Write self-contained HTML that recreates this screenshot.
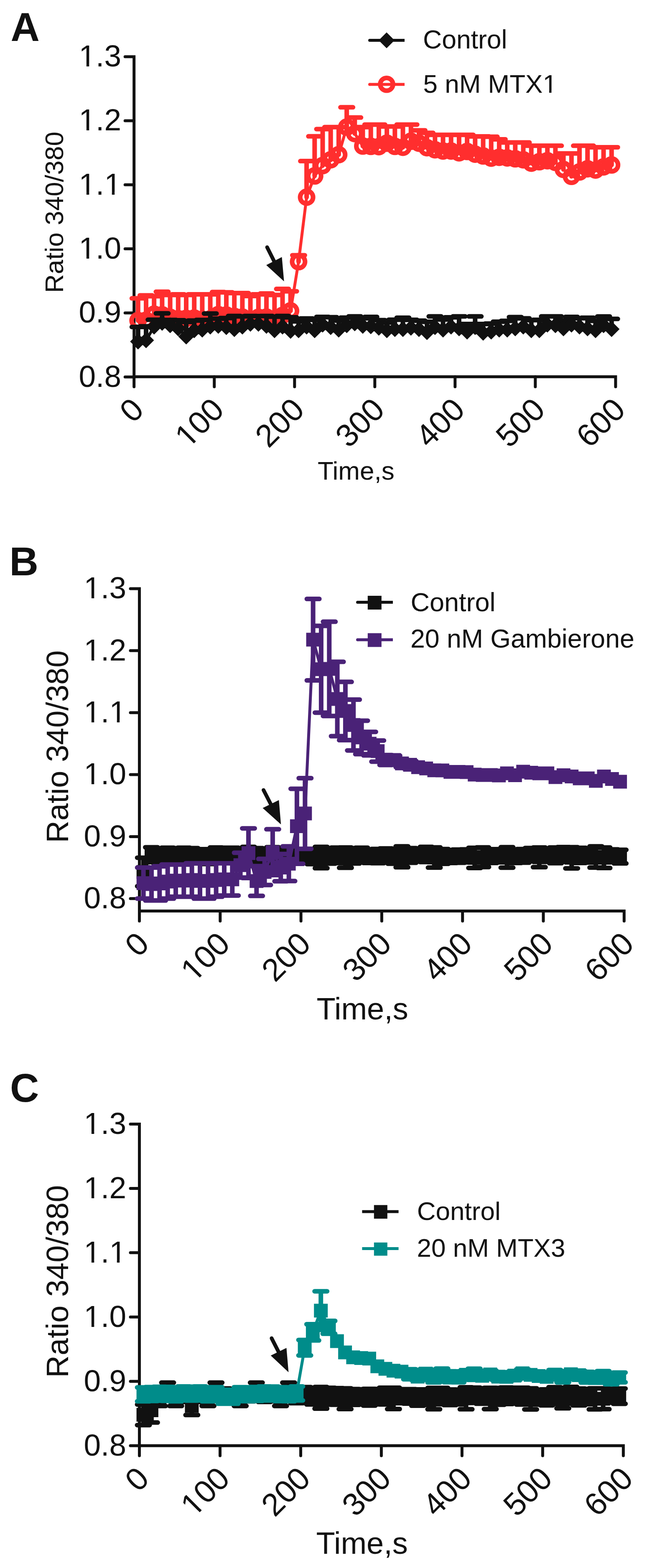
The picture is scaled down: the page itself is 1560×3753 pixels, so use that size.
<!DOCTYPE html>
<html><head><meta charset="utf-8"><title>Figure</title>
<style>html,body{margin:0;padding:0;background:#fff;}svg{display:block;}</style></head>
<body>
<svg width="1560" height="3753" viewBox="0 0 1560 3753" font-family="'Liberation Sans', Arial, sans-serif" fill="#111">
<rect width="1560" height="3753" fill="#fff"/>
<text x="25.5" y="97.5" font-size="96" font-weight="bold">A</text>
<path d="M299.2 135.7H320.7V901.8H1472.9V925.8" stroke="#111" stroke-width="7" fill="none" stroke-linejoin="miter" stroke-linecap="round"/>
<path d="M299.2 289.0H320.7M299.2 442.3H320.7M299.2 595.6H320.7M299.2 748.9H320.7M299.2 902.2H320.7M320.7 901.8V925.8M512.7 901.8V925.8M704.8 901.8V925.8M896.8 901.8V925.8M1088.8 901.8V925.8M1280.8 901.8V925.8" stroke="#111" stroke-width="7" fill="none" stroke-linecap="round"/>
<text x="290.0" y="159.0" text-anchor="end" font-size="73">1.3</text>
<text x="290.0" y="312.3" text-anchor="end" font-size="73">1.2</text>
<text x="290.0" y="465.6" text-anchor="end" font-size="73">1.1</text>
<text x="290.0" y="618.9" text-anchor="end" font-size="73">1.0</text>
<text x="290.0" y="772.2" text-anchor="end" font-size="73">0.9</text>
<text x="290.0" y="925.5" text-anchor="end" font-size="73">0.8</text>
<text x="348.2" y="985.1" text-anchor="end" font-size="76" transform="rotate(-45 348.2 985.1)">0</text>
<text x="540.2" y="985.1" text-anchor="end" font-size="76" transform="rotate(-45 540.2 985.1)">100</text>
<text x="732.3" y="985.1" text-anchor="end" font-size="76" transform="rotate(-45 732.3 985.1)">200</text>
<text x="924.3" y="985.1" text-anchor="end" font-size="76" transform="rotate(-45 924.3 985.1)">300</text>
<text x="1116.3" y="985.1" text-anchor="end" font-size="76" transform="rotate(-45 1116.3 985.1)">400</text>
<text x="1308.3" y="985.1" text-anchor="end" font-size="76" transform="rotate(-45 1308.3 985.1)">500</text>
<text x="1500.4" y="985.1" text-anchor="end" font-size="76" transform="rotate(-45 1500.4 985.1)">600</text>
<text x="150.8" y="508" text-anchor="middle" font-size="62" transform="rotate(-90 150.8 508)">Ratio 340/380</text>
<text x="760" y="1148.3" font-size="62">Time,s</text>
<path d="M330.3 767.3V714.1M315.3 714.1H345.3M349.5 766.5V707.0M334.5 707.0H364.5M368.7 752.0V709.0M353.7 709.0H383.7M387.9 753.5V698.3M372.9 698.3H402.9M407.1 759.6V706.0M392.1 706.0H422.1M426.3 762.7V704.4M411.3 704.4H441.3M445.5 762.1V706.0M430.5 706.0H460.5M464.7 761.2V704.4M449.7 704.4H479.7M483.9 764.2V704.4M468.9 704.4H498.9M503.1 763.2V704.4M488.1 704.4H518.1M522.3 753.0V699.1M507.3 699.1H537.3M541.5 754.1V699.8M526.5 699.8H556.5M560.7 757.2V701.4M545.7 701.4H575.7M579.9 759.0V701.4M564.9 701.4H594.9M599.1 764.8V708.4M584.1 708.4H614.1M618.3 759.6V704.4M603.3 704.4H633.3M637.5 759.0V702.5M622.5 702.5H652.5M656.8 762.4V706.0M641.8 706.0H671.8M676.0 755.0V691.6M661.0 691.6H691.0M695.2 744.0V697.2M680.2 697.2H710.2M714.4 626.3V610.9M699.4 610.9H729.4M733.6 472.0V385.6M718.6 385.6H748.6M752.8 421.1V326.3M737.8 326.3H767.8M772.0 396.3V308.9M757.0 308.9H787.0M791.2 382.5V304.3M776.2 304.3H806.2M810.4 370.2V304.3M795.4 304.3H825.4M829.6 304.3V256.8M814.6 256.8H844.6M848.8 319.7V281.3M833.8 281.3H863.8M868.0 349.6V304.3M853.0 304.3H883.0M887.2 350.3V298.2M872.2 298.2H902.2M906.4 350.9V298.2M891.4 298.2H921.4M925.6 342.7V302.8M910.6 302.8H940.6M944.8 350.3V302.8M929.8 302.8H959.8M964.0 352.5V298.2M949.0 298.2H979.0M983.2 338.1V298.2M968.2 298.2H998.2M1002.4 342.7V312.0M987.4 312.0H1017.4M1021.6 353.4V318.1M1006.6 318.1H1036.6M1040.8 358.4V322.7M1025.8 322.7H1055.8M1060.0 361.5V322.7M1045.0 322.7H1075.0M1079.2 361.5V322.7M1064.2 322.7H1094.2M1098.4 365.7V322.7M1083.4 322.7H1113.4M1117.6 362.6V322.7M1102.6 322.7H1132.6M1136.8 369.0V326.6M1121.8 326.6H1151.8M1156.0 373.3V326.6M1141.0 326.6H1171.0M1175.2 378.5V327.3M1160.2 327.3H1190.2M1194.4 376.4V333.5M1179.4 333.5H1209.4M1213.6 377.9V341.1M1198.6 341.1H1228.6M1232.8 380.1V341.1M1217.8 341.1H1247.8M1252.0 382.5V341.1M1237.0 341.1H1267.0M1271.2 390.5V348.8M1256.2 348.8H1286.2M1290.5 387.1V348.8M1275.5 348.8H1305.5M1309.7 384.7V348.8M1294.7 348.8H1324.7M1328.9 388.6V348.8M1313.9 348.8H1343.9M1348.1 405.5V367.2M1333.1 367.2H1363.1M1367.3 422.1V367.2M1352.3 367.2H1382.3M1386.5 411.6V348.8M1371.5 348.8H1401.5M1405.7 404.0V348.8M1390.7 348.8H1420.7M1424.9 407.0V352.5M1409.9 352.5H1439.9M1444.1 399.4V352.5M1429.1 352.5H1459.1M1463.3 394.8V352.5M1448.3 352.5H1478.3" stroke="#FF2E2E" stroke-width="11" stroke-linecap="round" fill="none"/>
<polyline points="330.3,767.3 349.5,766.5 368.7,752.0 387.9,753.5 407.1,759.6 426.3,762.7 445.5,762.1 464.7,761.2 483.9,764.2 503.1,763.2 522.3,753.0 541.5,754.1 560.7,757.2 579.9,759.0 599.1,764.8 618.3,759.6 637.5,759.0 656.8,762.4 676.0,755.0 695.2,744.0 714.4,626.3 733.6,472.0 752.8,421.1 772.0,396.3 791.2,382.5 810.4,370.2 829.6,304.3 848.8,319.7 868.0,349.6 887.2,350.3 906.4,350.9 925.6,342.7 944.8,350.3 964.0,352.5 983.2,338.1 1002.4,342.7 1021.6,353.4 1040.8,358.4 1060.0,361.5 1079.2,361.5 1098.4,365.7 1117.6,362.6 1136.8,369.0 1156.0,373.3 1175.2,378.5 1194.4,376.4 1213.6,377.9 1232.8,380.1 1252.0,382.5 1271.2,390.5 1290.5,387.1 1309.7,384.7 1328.9,388.6 1348.1,405.5 1367.3,422.1 1386.5,411.6 1405.7,404.0 1424.9,407.0 1444.1,399.4 1463.3,394.8" stroke="#FF2E2E" stroke-width="7" fill="none" stroke-linejoin="round"/>
<g fill="none" stroke="#FF2E2E" stroke-width="11"><circle cx="330.3" cy="767.3" r="15.5"/><circle cx="349.5" cy="766.5" r="15.5"/><circle cx="368.7" cy="752.0" r="15.5"/><circle cx="387.9" cy="753.5" r="15.5"/><circle cx="407.1" cy="759.6" r="15.5"/><circle cx="426.3" cy="762.7" r="15.5"/><circle cx="445.5" cy="762.1" r="15.5"/><circle cx="464.7" cy="761.2" r="15.5"/><circle cx="483.9" cy="764.2" r="15.5"/><circle cx="503.1" cy="763.2" r="15.5"/><circle cx="522.3" cy="753.0" r="15.5"/><circle cx="541.5" cy="754.1" r="15.5"/><circle cx="560.7" cy="757.2" r="15.5"/><circle cx="579.9" cy="759.0" r="15.5"/><circle cx="599.1" cy="764.8" r="15.5"/><circle cx="618.3" cy="759.6" r="15.5"/><circle cx="637.5" cy="759.0" r="15.5"/><circle cx="656.8" cy="762.4" r="15.5"/><circle cx="676.0" cy="755.0" r="15.5"/><circle cx="695.2" cy="744.0" r="15.5"/><circle cx="714.4" cy="626.3" r="15.5"/><circle cx="733.6" cy="472.0" r="15.5"/><circle cx="752.8" cy="421.1" r="15.5"/><circle cx="772.0" cy="396.3" r="15.5"/><circle cx="791.2" cy="382.5" r="15.5"/><circle cx="810.4" cy="370.2" r="15.5"/><circle cx="829.6" cy="304.3" r="15.5"/><circle cx="848.8" cy="319.7" r="15.5"/><circle cx="868.0" cy="349.6" r="15.5"/><circle cx="887.2" cy="350.3" r="15.5"/><circle cx="906.4" cy="350.9" r="15.5"/><circle cx="925.6" cy="342.7" r="15.5"/><circle cx="944.8" cy="350.3" r="15.5"/><circle cx="964.0" cy="352.5" r="15.5"/><circle cx="983.2" cy="338.1" r="15.5"/><circle cx="1002.4" cy="342.7" r="15.5"/><circle cx="1021.6" cy="353.4" r="15.5"/><circle cx="1040.8" cy="358.4" r="15.5"/><circle cx="1060.0" cy="361.5" r="15.5"/><circle cx="1079.2" cy="361.5" r="15.5"/><circle cx="1098.4" cy="365.7" r="15.5"/><circle cx="1117.6" cy="362.6" r="15.5"/><circle cx="1136.8" cy="369.0" r="15.5"/><circle cx="1156.0" cy="373.3" r="15.5"/><circle cx="1175.2" cy="378.5" r="15.5"/><circle cx="1194.4" cy="376.4" r="15.5"/><circle cx="1213.6" cy="377.9" r="15.5"/><circle cx="1232.8" cy="380.1" r="15.5"/><circle cx="1252.0" cy="382.5" r="15.5"/><circle cx="1271.2" cy="390.5" r="15.5"/><circle cx="1290.5" cy="387.1" r="15.5"/><circle cx="1309.7" cy="384.7" r="15.5"/><circle cx="1328.9" cy="388.6" r="15.5"/><circle cx="1348.1" cy="405.5" r="15.5"/><circle cx="1367.3" cy="422.1" r="15.5"/><circle cx="1386.5" cy="411.6" r="15.5"/><circle cx="1405.7" cy="404.0" r="15.5"/><circle cx="1424.9" cy="407.0" r="15.5"/><circle cx="1444.1" cy="399.4" r="15.5"/><circle cx="1463.3" cy="394.8" r="15.5"/></g>
<path d="M330.3 817.4V782.6M315.3 782.6H345.3M349.5 814.5V781.1M334.5 781.1H364.5M368.7 781.7V765.3M353.7 765.3H383.7M387.9 772.7V750.0M372.9 750.0H402.9M407.1 778.6V765.8M392.1 765.8H422.1M426.3 786.0V766.5M411.3 766.5H441.3M445.5 805.6V770.4M430.5 770.4H460.5M464.7 790.6V767.3M449.7 767.3H479.7M483.9 789.1V765.8M468.9 765.8H498.9M503.1 781.7V750.4M488.1 750.4H518.1M522.3 780.0V762.7M507.3 762.7H537.3M541.5 783.1V761.2M526.5 761.2H556.5M560.7 787.7V756.3M545.7 756.3H575.7M579.9 781.7V757.3M564.9 757.3H594.9M599.1 775.0V756.3M584.1 756.3H614.1M618.3 775.0V756.6M603.3 756.6H633.3M637.5 780.0V756.3M622.5 756.3H652.5M656.8 790.6V758.1M641.8 758.1H671.8M676.0 781.7V756.3M661.0 756.3H691.0M695.2 792.0V759.6M680.2 759.6H710.2M714.4 790.6V769.2M699.4 769.2H729.4M733.6 781.7V762.3M718.6 762.3H748.6M752.8 790.6V765.5M737.8 765.5H767.8M772.0 777.0V758.5M757.0 758.5H787.0M791.2 783.1V759.3M776.2 759.3H806.2M810.4 789.1V767.2M795.4 767.2H825.4M829.6 778.6V760.3M814.6 760.3H844.6M848.8 774.0V757.3M833.8 757.3H863.8M868.0 780.0V762.0M853.0 762.0H883.0M887.2 781.1V758.5M872.2 758.5H902.2M906.4 784.6V766.2M891.4 766.2H921.4M925.6 790.6V771.9M910.6 771.9H940.6M944.8 787.7V765.2M929.8 765.2H959.8M964.0 787.7V760.5M949.0 760.5H979.0M983.2 784.6V765.6M968.2 765.6H998.2M1002.4 787.7V767.5M987.4 767.5H1017.4M1021.6 795.0V770.2M1006.6 770.2H1036.6M1040.8 783.1V757.3M1025.8 757.3H1055.8M1060.0 789.1V764.8M1045.0 764.8H1075.0M1079.2 781.7V759.5M1064.2 759.5H1094.2M1098.4 786.0V757.3M1083.4 757.3H1113.4M1117.6 793.7V775.5M1102.6 775.5H1132.6M1136.8 783.1V757.3M1121.8 757.3H1151.8M1156.0 796.6V775.6M1141.0 775.6H1171.0M1175.2 793.7V774.4M1160.2 774.4H1190.2M1194.4 789.1V770.1M1179.4 770.1H1209.4M1213.6 789.1V767.9M1198.6 767.9H1228.6M1232.8 786.0V759.0M1217.8 759.0H1247.8M1252.0 781.7V762.0M1237.0 762.0H1267.0M1271.2 790.6V766.3M1256.2 766.3H1286.2M1290.5 790.6V765.6M1275.5 765.6H1305.5M1309.7 777.0V757.3M1294.7 757.3H1324.7M1328.9 778.6V757.3M1313.9 757.3H1343.9M1348.1 786.0V767.6M1333.1 767.6H1363.1M1367.3 777.0V758.6M1352.3 758.6H1382.3M1386.5 781.7V761.7M1371.5 761.7H1401.5M1405.7 786.0V760.5M1390.7 760.5H1420.7M1424.9 790.6V768.1M1409.9 768.1H1439.9M1444.1 778.6V757.4M1429.1 757.4H1459.1M1463.3 787.7V763.3M1448.3 763.3H1478.3" stroke="#111" stroke-width="11" stroke-linecap="round" fill="none"/>
<polyline points="330.3,817.4 349.5,814.5 368.7,781.7 387.9,772.7 407.1,778.6 426.3,786.0 445.5,805.6 464.7,790.6 483.9,789.1 503.1,781.7 522.3,780.0 541.5,783.1 560.7,787.7 579.9,781.7 599.1,775.0 618.3,775.0 637.5,780.0 656.8,790.6 676.0,781.7 695.2,792.0 714.4,790.6 733.6,781.7 752.8,790.6 772.0,777.0 791.2,783.1 810.4,789.1 829.6,778.6 848.8,774.0 868.0,780.0 887.2,781.1 906.4,784.6 925.6,790.6 944.8,787.7 964.0,787.7 983.2,784.6 1002.4,787.7 1021.6,795.0 1040.8,783.1 1060.0,789.1 1079.2,781.7 1098.4,786.0 1117.6,793.7 1136.8,783.1 1156.0,796.6 1175.2,793.7 1194.4,789.1 1213.6,789.1 1232.8,786.0 1252.0,781.7 1271.2,790.6 1290.5,790.6 1309.7,777.0 1328.9,778.6 1348.1,786.0 1367.3,777.0 1386.5,781.7 1405.7,786.0 1424.9,790.6 1444.1,778.6 1463.3,787.7" stroke="#111" stroke-width="7" fill="none" stroke-linejoin="round"/>
<path d="M330.3 798.4L349.3 817.4L330.3 836.4L311.3 817.4ZM349.5 795.5L368.5 814.5L349.5 833.5L330.5 814.5ZM368.7 762.7L387.7 781.7L368.7 800.7L349.7 781.7ZM387.9 753.7L406.9 772.7L387.9 791.7L368.9 772.7ZM407.1 759.6L426.1 778.6L407.1 797.6L388.1 778.6ZM426.3 767.0L445.3 786.0L426.3 805.0L407.3 786.0ZM445.5 786.6L464.5 805.6L445.5 824.6L426.5 805.6ZM464.7 771.6L483.7 790.6L464.7 809.6L445.7 790.6ZM483.9 770.1L502.9 789.1L483.9 808.1L464.9 789.1ZM503.1 762.7L522.1 781.7L503.1 800.7L484.1 781.7ZM522.3 761.0L541.3 780.0L522.3 799.0L503.3 780.0ZM541.5 764.1L560.5 783.1L541.5 802.1L522.5 783.1ZM560.7 768.7L579.7 787.7L560.7 806.7L541.7 787.7ZM579.9 762.7L598.9 781.7L579.9 800.7L560.9 781.7ZM599.1 756.0L618.1 775.0L599.1 794.0L580.1 775.0ZM618.3 756.0L637.3 775.0L618.3 794.0L599.3 775.0ZM637.5 761.0L656.5 780.0L637.5 799.0L618.5 780.0ZM656.8 771.6L675.8 790.6L656.8 809.6L637.8 790.6ZM676.0 762.7L695.0 781.7L676.0 800.7L657.0 781.7ZM695.2 773.0L714.2 792.0L695.2 811.0L676.2 792.0ZM714.4 771.6L733.4 790.6L714.4 809.6L695.4 790.6ZM733.6 762.7L752.6 781.7L733.6 800.7L714.6 781.7ZM752.8 771.6L771.8 790.6L752.8 809.6L733.8 790.6ZM772.0 758.0L791.0 777.0L772.0 796.0L753.0 777.0ZM791.2 764.1L810.2 783.1L791.2 802.1L772.2 783.1ZM810.4 770.1L829.4 789.1L810.4 808.1L791.4 789.1ZM829.6 759.6L848.6 778.6L829.6 797.6L810.6 778.6ZM848.8 755.0L867.8 774.0L848.8 793.0L829.8 774.0ZM868.0 761.0L887.0 780.0L868.0 799.0L849.0 780.0ZM887.2 762.1L906.2 781.1L887.2 800.1L868.2 781.1ZM906.4 765.6L925.4 784.6L906.4 803.6L887.4 784.6ZM925.6 771.6L944.6 790.6L925.6 809.6L906.6 790.6ZM944.8 768.7L963.8 787.7L944.8 806.7L925.8 787.7ZM964.0 768.7L983.0 787.7L964.0 806.7L945.0 787.7ZM983.2 765.6L1002.2 784.6L983.2 803.6L964.2 784.6ZM1002.4 768.7L1021.4 787.7L1002.4 806.7L983.4 787.7ZM1021.6 776.0L1040.6 795.0L1021.6 814.0L1002.6 795.0ZM1040.8 764.1L1059.8 783.1L1040.8 802.1L1021.8 783.1ZM1060.0 770.1L1079.0 789.1L1060.0 808.1L1041.0 789.1ZM1079.2 762.7L1098.2 781.7L1079.2 800.7L1060.2 781.7ZM1098.4 767.0L1117.4 786.0L1098.4 805.0L1079.4 786.0ZM1117.6 774.7L1136.6 793.7L1117.6 812.7L1098.6 793.7ZM1136.8 764.1L1155.8 783.1L1136.8 802.1L1117.8 783.1ZM1156.0 777.6L1175.0 796.6L1156.0 815.6L1137.0 796.6ZM1175.2 774.7L1194.2 793.7L1175.2 812.7L1156.2 793.7ZM1194.4 770.1L1213.4 789.1L1194.4 808.1L1175.4 789.1ZM1213.6 770.1L1232.6 789.1L1213.6 808.1L1194.6 789.1ZM1232.8 767.0L1251.8 786.0L1232.8 805.0L1213.8 786.0ZM1252.0 762.7L1271.0 781.7L1252.0 800.7L1233.0 781.7ZM1271.2 771.6L1290.2 790.6L1271.2 809.6L1252.2 790.6ZM1290.5 771.6L1309.5 790.6L1290.5 809.6L1271.5 790.6ZM1309.7 758.0L1328.7 777.0L1309.7 796.0L1290.7 777.0ZM1328.9 759.6L1347.9 778.6L1328.9 797.6L1309.9 778.6ZM1348.1 767.0L1367.1 786.0L1348.1 805.0L1329.1 786.0ZM1367.3 758.0L1386.3 777.0L1367.3 796.0L1348.3 777.0ZM1386.5 762.7L1405.5 781.7L1386.5 800.7L1367.5 781.7ZM1405.7 767.0L1424.7 786.0L1405.7 805.0L1386.7 786.0ZM1424.9 771.6L1443.9 790.6L1424.9 809.6L1405.9 790.6ZM1444.1 759.6L1463.1 778.6L1444.1 797.6L1425.1 778.6ZM1463.3 768.7L1482.3 787.7L1463.3 806.7L1444.3 787.7Z" fill="#111"/>
<line x1="639.1" y1="591.8" x2="660.5" y2="634.6" stroke="#111" stroke-width="9" stroke-linecap="round"/><polygon points="637.1,634.4 674.4,615.3 679.6,673.6" fill="#111"/>
<line x1="884.5" y1="96.4" x2="968" y2="96.4" stroke="#111" stroke-width="7"/><circle cx="884.5" cy="96.4" r="3.5" fill="#111"/>
<path d="M925 77.4L944 96.4L925 115.4L906 96.4Z" fill="#111"/>
<text x="1012" y="116" font-size="62.5">Control</text>
<line x1="884.5" y1="202" x2="968" y2="202" stroke="#FF2E2E" stroke-width="7"/><circle cx="884.5" cy="202" r="3.5" fill="#FF2E2E"/>
<circle cx="925" cy="201.7" r="15.3" fill="none" stroke="#FF2E2E" stroke-width="11"/>
<text x="1012.5" y="222.2" font-size="62">5 nM MTX1</text>
<text x="22.5" y="1377" font-size="96" font-weight="bold">B</text>
<path d="M312.0 1408.9H333.5V2180.4H1493.3V2204.4" stroke="#111" stroke-width="7" fill="none" stroke-linejoin="miter" stroke-linecap="round"/>
<path d="M312.0 1557.3H333.5M312.0 1705.7H333.5M312.0 1854.0H333.5M312.0 2002.4H333.5M312.0 2150.8H333.5M333.5 2180.4V2204.4M526.8 2180.4V2204.4M720.1 2180.4V2204.4M913.4 2180.4V2204.4M1106.7 2180.4V2204.4M1300.0 2180.4V2204.4" stroke="#111" stroke-width="7" fill="none" stroke-linecap="round"/>
<text x="302.0" y="1432.2" text-anchor="end" font-size="73">1.3</text>
<text x="302.0" y="1580.6" text-anchor="end" font-size="73">1.2</text>
<text x="302.0" y="1729.0" text-anchor="end" font-size="73">1.1</text>
<text x="302.0" y="1877.3" text-anchor="end" font-size="73">1.0</text>
<text x="302.0" y="2025.7" text-anchor="end" font-size="73">0.9</text>
<text x="302.0" y="2174.1" text-anchor="end" font-size="73">0.8</text>
<text x="361.0" y="2263.7" text-anchor="end" font-size="76" transform="rotate(-45 361.0 2263.7)">0</text>
<text x="554.3" y="2263.7" text-anchor="end" font-size="76" transform="rotate(-45 554.3 2263.7)">100</text>
<text x="747.6" y="2263.7" text-anchor="end" font-size="76" transform="rotate(-45 747.6 2263.7)">200</text>
<text x="940.9" y="2263.7" text-anchor="end" font-size="76" transform="rotate(-45 940.9 2263.7)">300</text>
<text x="1134.2" y="2263.7" text-anchor="end" font-size="76" transform="rotate(-45 1134.2 2263.7)">400</text>
<text x="1327.5" y="2263.7" text-anchor="end" font-size="76" transform="rotate(-45 1327.5 2263.7)">500</text>
<text x="1520.8" y="2263.7" text-anchor="end" font-size="76" transform="rotate(-45 1520.8 2263.7)">600</text>
<text x="162.5" y="1787" text-anchor="middle" font-size="74" transform="rotate(-90 162.5 1787)">Ratio 340/380</text>
<text x="757.5" y="2439.6" font-size="74">Time,s</text>
<path d="M343.2 2087.0V2052.9M328.2 2052.9H358.2M343.2 2087.0V2121.1M328.2 2121.1H358.2M362.5 2045.8V2028.0M347.5 2028.0H377.5M362.5 2045.8V2063.6M347.5 2063.6H377.5M381.8 2049.0V2031.7M366.8 2031.7H396.8M381.8 2049.0V2066.4M366.8 2066.4H396.8M401.2 2047.4V2029.0M386.2 2029.0H416.2M401.2 2047.4V2065.8M386.2 2065.8H416.2M420.5 2046.2V2029.9M405.5 2029.9H435.5M420.5 2046.2V2062.5M405.5 2062.5H435.5M439.8 2044.7V2029.0M424.8 2029.0H454.8M439.8 2044.7V2060.4M424.8 2060.4H454.8M459.1 2048.0V2030.0M444.1 2030.0H474.1M459.1 2048.0V2066.0M444.1 2066.0H474.1M478.5 2049.6V2032.6M463.5 2032.6H493.5M478.5 2049.6V2066.6M463.5 2066.6H493.5M497.8 2050.3V2032.6M482.8 2032.6H512.8M497.8 2050.3V2067.9M482.8 2067.9H512.8M517.1 2046.0V2028.6M502.1 2028.6H532.1M517.1 2046.0V2063.3M502.1 2063.3H532.1M536.5 2045.3V2028.9M521.5 2028.9H551.5M536.5 2045.3V2061.7M521.5 2061.7H551.5M555.8 2046.4V2029.0M540.8 2029.0H570.8M555.8 2046.4V2063.8M540.8 2063.8H570.8M575.1 2047.1V2030.1M560.1 2030.1H590.1M575.1 2047.1V2064.0M560.1 2064.0H590.1M594.5 2045.5V2026.9M579.5 2026.9H609.5M594.5 2045.5V2064.2M579.5 2064.2H609.5M613.8 2047.7V2030.0M598.8 2030.0H628.8M613.8 2047.7V2065.3M598.8 2065.3H628.8M633.1 2050.1V2032.4M618.1 2032.4H648.1M633.1 2050.1V2067.9M618.1 2067.9H648.1M652.4 2046.7V2027.8M637.4 2027.8H667.4M652.4 2046.7V2065.5M637.4 2065.5H667.4M671.8 2045.6V2029.3M656.8 2029.3H686.8M671.8 2045.6V2061.9M656.8 2061.9H686.8M691.1 2048.2V2030.5M676.1 2030.5H706.1M691.1 2048.2V2065.9M676.1 2065.9H706.1M710.4 2050.4V2033.4M695.4 2033.4H725.4M710.4 2050.4V2067.3M695.4 2067.3H725.4M729.8 2049.5V2033.8M714.8 2033.8H744.8M729.8 2049.5V2065.2M714.8 2065.2H744.8M749.1 2050.1V2032.1M734.1 2032.1H764.1M749.1 2050.1V2068.2M734.1 2068.2H764.1M768.4 2052.5V2026.9M753.4 2026.9H783.4M768.4 2052.5V2078.0M753.4 2078.0H783.4M787.8 2050.0V2033.1M772.8 2033.1H802.8M787.8 2050.0V2066.9M772.8 2066.9H802.8M807.1 2047.2V2028.8M792.1 2028.8H822.1M807.1 2047.2V2065.7M792.1 2065.7H822.1M826.4 2052.8V2028.6M811.4 2028.6H841.4M826.4 2052.8V2077.0M811.4 2077.0H841.4M845.7 2048.4V2029.9M830.7 2029.9H860.7M845.7 2048.4V2066.8M830.7 2066.8H860.7M865.1 2044.8V2029.0M850.1 2029.0H880.1M865.1 2044.8V2060.6M850.1 2060.6H880.1M884.4 2049.4V2033.3M869.4 2033.3H899.4M884.4 2049.4V2065.6M869.4 2065.6H899.4M903.7 2049.1V2032.1M888.7 2032.1H918.7M903.7 2049.1V2066.1M888.7 2066.1H918.7M923.1 2047.0V2030.8M908.1 2030.8H938.1M923.1 2047.0V2063.2M908.1 2063.2H938.1M942.4 2050.5V2033.7M927.4 2033.7H957.4M942.4 2050.5V2067.2M927.4 2067.2H957.4M961.7 2050.8V2025.7M946.7 2025.7H976.7M961.7 2050.8V2075.8M946.7 2075.8H976.7M981.1 2047.4V2030.0M966.1 2030.0H996.1M981.1 2047.4V2064.9M966.1 2064.9H996.1M1000.4 2046.5V2031.0M985.4 2031.0H1015.4M1000.4 2046.5V2062.0M985.4 2062.0H1015.4M1019.7 2045.2V2027.1M1004.7 2027.1H1034.7M1019.7 2045.2V2063.2M1004.7 2063.2H1034.7M1039.0 2052.4V2028.3M1024.0 2028.3H1054.0M1039.0 2052.4V2076.6M1024.0 2076.6H1054.0M1058.4 2049.9V2032.3M1043.4 2032.3H1073.4M1058.4 2049.9V2067.4M1043.4 2067.4H1073.4M1077.7 2050.1V2034.6M1062.7 2034.6H1092.7M1077.7 2050.1V2065.6M1062.7 2065.6H1092.7M1097.0 2049.3V2033.4M1082.0 2033.4H1112.0M1097.0 2049.3V2065.1M1082.0 2065.1H1112.0M1116.4 2048.5V2033.0M1101.4 2033.0H1131.4M1116.4 2048.5V2063.9M1101.4 2063.9H1131.4M1135.7 2053.3V2029.2M1120.7 2029.2H1150.7M1135.7 2053.3V2077.4M1120.7 2077.4H1150.7M1155.0 2051.8V2028.3M1140.0 2028.3H1170.0M1155.0 2051.8V2075.2M1140.0 2075.2H1170.0M1174.4 2049.0V2032.5M1159.4 2032.5H1189.4M1174.4 2049.0V2065.5M1159.4 2065.5H1189.4M1193.7 2048.3V2032.6M1178.7 2032.6H1208.7M1193.7 2048.3V2064.1M1178.7 2064.1H1208.7M1213.0 2052.2V2027.8M1198.0 2027.8H1228.0M1213.0 2052.2V2076.7M1198.0 2076.7H1228.0M1232.3 2050.0V2034.3M1217.3 2034.3H1247.3M1232.3 2050.0V2065.6M1217.3 2065.6H1247.3M1251.7 2048.5V2032.2M1236.7 2032.2H1266.7M1251.7 2048.5V2064.7M1236.7 2064.7H1266.7M1271.0 2045.6V2029.7M1256.0 2029.7H1286.0M1271.0 2045.6V2061.4M1256.0 2061.4H1286.0M1290.3 2052.0V2028.6M1275.3 2028.6H1305.3M1290.3 2052.0V2075.5M1275.3 2075.5H1305.3M1309.7 2047.3V2031.9M1294.7 2031.9H1324.7M1309.7 2047.3V2062.7M1294.7 2062.7H1324.7M1329.0 2047.4V2028.6M1314.0 2028.6H1344.0M1329.0 2047.4V2066.1M1314.0 2066.1H1344.0M1348.3 2045.4V2027.6M1333.3 2027.6H1363.3M1348.3 2045.4V2063.1M1333.3 2063.1H1363.3M1367.7 2053.1V2027.8M1352.7 2027.8H1382.7M1367.7 2053.1V2078.4M1352.7 2078.4H1382.7M1387.0 2047.3V2029.3M1372.0 2029.3H1402.0M1387.0 2047.3V2065.4M1372.0 2065.4H1402.0M1406.3 2048.5V2032.5M1391.3 2032.5H1421.3M1406.3 2048.5V2064.6M1391.3 2064.6H1421.3M1425.6 2051.1V2025.7M1410.6 2025.7H1440.6M1425.6 2051.1V2076.5M1410.6 2076.5H1440.6M1445.0 2052.9V2028.4M1430.0 2028.4H1460.0M1445.0 2052.9V2077.5M1430.0 2077.5H1460.0M1464.3 2048.4V2033.0M1449.3 2033.0H1479.3M1464.3 2048.4V2063.8M1449.3 2063.8H1479.3M1483.6 2050.3V2034.1M1468.6 2034.1H1498.6M1483.6 2050.3V2066.6M1468.6 2066.6H1498.6" stroke="#111" stroke-width="11" stroke-linecap="round" fill="none"/>
<polyline points="343.2,2087.0 362.5,2045.8 381.8,2049.0 401.2,2047.4 420.5,2046.2 439.8,2044.7 459.1,2048.0 478.5,2049.6 497.8,2050.3 517.1,2046.0 536.5,2045.3 555.8,2046.4 575.1,2047.1 594.5,2045.5 613.8,2047.7 633.1,2050.1 652.4,2046.7 671.8,2045.6 691.1,2048.2 710.4,2050.4 729.8,2049.5 749.1,2050.1 768.4,2052.5 787.8,2050.0 807.1,2047.2 826.4,2052.8 845.7,2048.4 865.1,2044.8 884.4,2049.4 903.7,2049.1 923.1,2047.0 942.4,2050.5 961.7,2050.8 981.1,2047.4 1000.4,2046.5 1019.7,2045.2 1039.0,2052.4 1058.4,2049.9 1077.7,2050.1 1097.0,2049.3 1116.4,2048.5 1135.7,2053.3 1155.0,2051.8 1174.4,2049.0 1193.7,2048.3 1213.0,2052.2 1232.3,2050.0 1251.7,2048.5 1271.0,2045.6 1290.3,2052.0 1309.7,2047.3 1329.0,2047.4 1348.3,2045.4 1367.7,2053.1 1387.0,2047.3 1406.3,2048.5 1425.6,2051.1 1445.0,2052.9 1464.3,2048.4 1483.6,2050.3" stroke="#111" stroke-width="7" fill="none" stroke-linejoin="round"/>
<path d="M326.7 2070.5h33v33h-33ZM346.0 2029.3h33v33h-33ZM365.3 2032.5h33v33h-33ZM384.7 2030.9h33v33h-33ZM404.0 2029.7h33v33h-33ZM423.3 2028.2h33v33h-33ZM442.6 2031.5h33v33h-33ZM462.0 2033.1h33v33h-33ZM481.3 2033.8h33v33h-33ZM500.6 2029.5h33v33h-33ZM520.0 2028.8h33v33h-33ZM539.3 2029.9h33v33h-33ZM558.6 2030.6h33v33h-33ZM578.0 2029.0h33v33h-33ZM597.3 2031.2h33v33h-33ZM616.6 2033.6h33v33h-33ZM635.9 2030.2h33v33h-33ZM655.3 2029.1h33v33h-33ZM674.6 2031.7h33v33h-33ZM693.9 2033.9h33v33h-33ZM713.3 2033.0h33v33h-33ZM732.6 2033.6h33v33h-33ZM751.9 2036.0h33v33h-33ZM771.3 2033.5h33v33h-33ZM790.6 2030.7h33v33h-33ZM809.9 2036.3h33v33h-33ZM829.2 2031.9h33v33h-33ZM848.6 2028.3h33v33h-33ZM867.9 2032.9h33v33h-33ZM887.2 2032.6h33v33h-33ZM906.6 2030.5h33v33h-33ZM925.9 2034.0h33v33h-33ZM945.2 2034.3h33v33h-33ZM964.6 2030.9h33v33h-33ZM983.9 2030.0h33v33h-33ZM1003.2 2028.7h33v33h-33ZM1022.5 2035.9h33v33h-33ZM1041.9 2033.4h33v33h-33ZM1061.2 2033.6h33v33h-33ZM1080.5 2032.8h33v33h-33ZM1099.9 2032.0h33v33h-33ZM1119.2 2036.8h33v33h-33ZM1138.5 2035.3h33v33h-33ZM1157.9 2032.5h33v33h-33ZM1177.2 2031.8h33v33h-33ZM1196.5 2035.7h33v33h-33ZM1215.8 2033.5h33v33h-33ZM1235.2 2032.0h33v33h-33ZM1254.5 2029.1h33v33h-33ZM1273.8 2035.5h33v33h-33ZM1293.2 2030.8h33v33h-33ZM1312.5 2030.9h33v33h-33ZM1331.8 2028.9h33v33h-33ZM1351.2 2036.6h33v33h-33ZM1370.5 2030.8h33v33h-33ZM1389.8 2032.0h33v33h-33ZM1409.1 2034.6h33v33h-33ZM1428.5 2036.4h33v33h-33ZM1447.8 2031.9h33v33h-33ZM1467.1 2033.8h33v33h-33Z" fill="#111"/>
<path d="M343.2 2113.7V2076.6M328.2 2076.6H358.2M343.2 2113.7V2150.8M328.2 2150.8H358.2M362.5 2115.9V2076.6M347.5 2076.6H377.5M362.5 2115.9V2155.3M347.5 2155.3H377.5M381.8 2114.4V2073.6M366.8 2073.6H396.8M381.8 2114.4V2155.3M366.8 2155.3H396.8M401.2 2110.0V2069.2M386.2 2069.2H416.2M401.2 2110.0V2150.8M386.2 2150.8H416.2M420.5 2107.8V2069.2M405.5 2069.2H435.5M420.5 2107.8V2146.3M405.5 2146.3H435.5M439.8 2107.8V2069.2M424.8 2069.2H454.8M439.8 2107.8V2146.3M424.8 2146.3H454.8M459.1 2106.3V2066.2M444.1 2066.2H474.1M459.1 2106.3V2146.3M444.1 2146.3H474.1M478.5 2108.5V2066.2M463.5 2066.2H493.5M478.5 2108.5V2150.8M463.5 2150.8H493.5M497.8 2108.5V2066.2M482.8 2066.2H512.8M497.8 2108.5V2150.8M482.8 2150.8H512.8M517.1 2106.3V2066.2M502.1 2066.2H532.1M517.1 2106.3V2146.3M502.1 2146.3H532.1M536.5 2104.8V2066.2M521.5 2066.2H551.5M536.5 2104.8V2143.4M521.5 2143.4H551.5M555.8 2104.8V2066.2M540.8 2066.2H570.8M555.8 2104.8V2143.4M540.8 2143.4H570.8M575.1 2070.7V2041.0M560.1 2041.0H590.1M575.1 2070.7V2100.4M560.1 2100.4H590.1M594.5 2042.0V1982.7M579.5 1982.7H609.5M594.5 2042.0V2101.4M579.5 2101.4H609.5M613.8 2108.7V2073.0M598.8 2073.0H628.8M613.8 2108.7V2144.3M598.8 2144.3H628.8M633.1 2087.0V2055.8M618.1 2055.8H648.1M633.1 2087.0V2118.2M618.1 2118.2H648.1M652.4 2039.7V1984.8M637.4 1984.8H667.4M652.4 2039.7V2094.6M637.4 2094.6H667.4M671.8 2076.6V2044.0M656.8 2044.0H686.8M671.8 2076.6V2109.3M656.8 2109.3H686.8M691.1 2067.3V2025.7M676.1 2025.7H706.1M691.1 2067.3V2108.8M676.1 2108.8H706.1M710.4 1977.6V1887.9M695.4 1887.9H725.4M710.4 1977.6V2067.4M695.4 2067.4H725.4M729.8 1947.1V1862.5M714.8 1862.5H744.8M729.8 1947.1V2031.7M714.8 2031.7H744.8M749.1 1531.0V1433.5M734.1 1433.5H764.1M749.1 1531.0V1628.5M734.1 1628.5H764.1M768.4 1601.8V1497.9M753.4 1497.9H783.4M768.4 1601.8V1705.7M753.4 1705.7H783.4M787.8 1600.9V1488.1M772.8 1488.1H802.8M787.8 1600.9V1713.7M772.8 1713.7H802.8M807.1 1673.0V1584.0M792.1 1584.0H822.1M807.1 1673.0V1762.0M792.1 1762.0H822.1M826.4 1701.8V1632.1M811.4 1632.1H841.4M826.4 1701.8V1771.5M811.4 1771.5H841.4M845.7 1735.3V1674.5M830.7 1674.5H860.7M845.7 1735.3V1796.2M830.7 1796.2H860.7M865.1 1765.0V1724.9M850.1 1724.9H880.1M865.1 1765.0V1805.1M850.1 1805.1H880.1M884.4 1779.9V1751.7M869.4 1751.7H899.4M884.4 1779.9V1808.0M869.4 1808.0H899.4M903.7 1797.7V1772.4M888.7 1772.4H918.7M903.7 1797.7V1822.9M888.7 1822.9H918.7M923.1 1819.0V1807.2M908.1 1807.2H938.1M923.1 1819.0V1830.9M908.1 1830.9H938.1M942.4 1819.0V1808.6M927.4 1808.6H957.4M942.4 1819.0V1829.4M927.4 1829.4H957.4M961.7 1827.3V1818.4M946.7 1818.4H976.7M961.7 1827.3V1836.2M946.7 1836.2H976.7M981.1 1830.4V1821.5M966.1 1821.5H996.1M981.1 1830.4V1839.4M966.1 1839.4H996.1" stroke="#4A2277" stroke-width="11" stroke-linecap="round" fill="none"/>
<polyline points="343.2,2113.7 362.5,2115.9 381.8,2114.4 401.2,2110.0 420.5,2107.8 439.8,2107.8 459.1,2106.3 478.5,2108.5 497.8,2108.5 517.1,2106.3 536.5,2104.8 555.8,2104.8 575.1,2070.7 594.5,2042.0 613.8,2108.7 633.1,2087.0 652.4,2039.7 671.8,2076.6 691.1,2067.3 710.4,1977.6 729.8,1947.1 749.1,1531.0 768.4,1601.8 787.8,1600.9 807.1,1673.0 826.4,1701.8 845.7,1735.3 865.1,1765.0 884.4,1779.9 903.7,1797.7 923.1,1819.0 942.4,1819.0 961.7,1827.3 981.1,1830.4 1000.4,1836.2 1019.7,1839.2 1039.0,1843.7 1058.4,1844.1 1077.7,1847.5 1097.0,1847.5 1116.4,1848.1 1135.7,1854.0 1155.0,1854.9 1174.4,1854.9 1193.7,1856.0 1213.0,1851.1 1232.3,1855.5 1251.7,1846.9 1271.0,1849.6 1290.3,1851.1 1309.7,1851.1 1329.0,1860.0 1348.3,1855.5 1367.7,1858.5 1387.0,1862.9 1406.3,1862.9 1425.6,1868.9 1445.0,1858.5 1464.3,1864.4 1483.6,1871.0" stroke="#4A2277" stroke-width="7" fill="none" stroke-linejoin="round"/>
<path d="M326.7 2097.2h33v33h-33ZM346.0 2099.4h33v33h-33ZM365.3 2097.9h33v33h-33ZM384.7 2093.5h33v33h-33ZM404.0 2091.3h33v33h-33ZM423.3 2091.3h33v33h-33ZM442.6 2089.8h33v33h-33ZM462.0 2092.0h33v33h-33ZM481.3 2092.0h33v33h-33ZM500.6 2089.8h33v33h-33ZM520.0 2088.3h33v33h-33ZM539.3 2088.3h33v33h-33ZM558.6 2054.2h33v33h-33ZM578.0 2025.5h33v33h-33ZM597.3 2092.2h33v33h-33ZM616.6 2070.5h33v33h-33ZM635.9 2023.2h33v33h-33ZM655.3 2060.1h33v33h-33ZM674.6 2050.8h33v33h-33ZM693.9 1961.1h33v33h-33ZM713.3 1930.6h33v33h-33ZM732.6 1514.5h33v33h-33ZM751.9 1585.3h33v33h-33ZM771.3 1584.4h33v33h-33ZM790.6 1656.5h33v33h-33ZM809.9 1685.3h33v33h-33ZM829.2 1718.8h33v33h-33ZM848.6 1748.5h33v33h-33ZM867.9 1763.4h33v33h-33ZM887.2 1781.2h33v33h-33ZM906.6 1802.5h33v33h-33ZM925.9 1802.5h33v33h-33ZM945.2 1810.8h33v33h-33ZM964.6 1813.9h33v33h-33ZM983.9 1819.7h33v33h-33ZM1003.2 1822.7h33v33h-33ZM1022.5 1827.2h33v33h-33ZM1041.9 1827.6h33v33h-33ZM1061.2 1831.0h33v33h-33ZM1080.5 1831.0h33v33h-33ZM1099.9 1831.6h33v33h-33ZM1119.2 1837.5h33v33h-33ZM1138.5 1838.4h33v33h-33ZM1157.9 1838.4h33v33h-33ZM1177.2 1839.5h33v33h-33ZM1196.5 1834.6h33v33h-33ZM1215.8 1839.0h33v33h-33ZM1235.2 1830.4h33v33h-33ZM1254.5 1833.1h33v33h-33ZM1273.8 1834.6h33v33h-33ZM1293.2 1834.6h33v33h-33ZM1312.5 1843.5h33v33h-33ZM1331.8 1839.0h33v33h-33ZM1351.2 1842.0h33v33h-33ZM1370.5 1846.4h33v33h-33ZM1389.8 1846.4h33v33h-33ZM1409.1 1852.4h33v33h-33ZM1428.5 1842.0h33v33h-33ZM1447.8 1847.9h33v33h-33ZM1467.1 1854.5h33v33h-33Z" fill="#4A2277"/>
<line x1="630.5" y1="1891.0" x2="652.8" y2="1934.2" stroke="#111" stroke-width="9" stroke-linecap="round"/><polygon points="628.5,1934.0 667.3,1914.9 672.2,1973.2" fill="#111"/>
<line x1="855.5" y1="1441.5" x2="940" y2="1441.5" stroke="#111" stroke-width="7"/><circle cx="855.5" cy="1441.5" r="3.5" fill="#111"/>
<rect x="879.8" y="1426" width="33" height="33" fill="#111"/>
<text x="982.5" y="1462.7" font-size="63">Control</text>
<line x1="855.5" y1="1531.3" x2="940" y2="1531.3" stroke="#4A2277" stroke-width="7"/><circle cx="855.5" cy="1531.3" r="3.5" fill="#4A2277"/>
<rect x="879.8" y="1515.5" width="33" height="33" fill="#4A2277"/>
<text x="982" y="1550" font-size="62.6">20 nM Gambierone</text>
<text x="24" y="2636.5" font-size="96" font-weight="bold">C</text>
<path d="M312.0 2690.4H333.5V3460.2H1491.4V3484.2" stroke="#111" stroke-width="7" fill="none" stroke-linejoin="miter" stroke-linecap="round"/>
<path d="M312.0 2844.4H333.5M312.0 2998.3H333.5M312.0 3152.3H333.5M312.0 3306.2H333.5M312.0 3460.2H333.5M333.5 3460.2V3484.2M526.5 3460.2V3484.2M719.5 3460.2V3484.2M912.4 3460.2V3484.2M1105.4 3460.2V3484.2M1298.4 3460.2V3484.2" stroke="#111" stroke-width="7" fill="none" stroke-linecap="round"/>
<text x="302.0" y="2713.7" text-anchor="end" font-size="73">1.3</text>
<text x="302.0" y="2867.7" text-anchor="end" font-size="73">1.2</text>
<text x="302.0" y="3021.6" text-anchor="end" font-size="73">1.1</text>
<text x="302.0" y="3175.6" text-anchor="end" font-size="73">1.0</text>
<text x="302.0" y="3329.5" text-anchor="end" font-size="73">0.9</text>
<text x="302.0" y="3483.5" text-anchor="end" font-size="73">0.8</text>
<text x="361.0" y="3543.5" text-anchor="end" font-size="76" transform="rotate(-45 361.0 3543.5)">0</text>
<text x="554.0" y="3543.5" text-anchor="end" font-size="76" transform="rotate(-45 554.0 3543.5)">100</text>
<text x="747.0" y="3543.5" text-anchor="end" font-size="76" transform="rotate(-45 747.0 3543.5)">200</text>
<text x="939.9" y="3543.5" text-anchor="end" font-size="76" transform="rotate(-45 939.9 3543.5)">300</text>
<text x="1132.9" y="3543.5" text-anchor="end" font-size="76" transform="rotate(-45 1132.9 3543.5)">400</text>
<text x="1325.9" y="3543.5" text-anchor="end" font-size="76" transform="rotate(-45 1325.9 3543.5)">500</text>
<text x="1518.9" y="3543.5" text-anchor="end" font-size="76" transform="rotate(-45 1518.9 3543.5)">600</text>
<text x="162.5" y="3067" text-anchor="middle" font-size="74" transform="rotate(-90 162.5 3067)">Ratio 340/380</text>
<text x="756.5" y="3719" font-size="74">Time,s</text>
<path d="M343.1 3386.3V3361.7M328.1 3361.7H358.1M343.1 3386.3V3410.9M328.1 3410.9H358.1M362.4 3375.5V3346.3M347.4 3346.3H377.4M362.4 3375.5V3404.8M347.4 3404.8H377.4M381.7 3349.3V3333.5M366.7 3333.5H396.7M381.7 3349.3V3365.2M366.7 3365.2H396.7M401.0 3329.3V3309.3M386.0 3309.3H416.0M401.0 3329.3V3349.3M386.0 3349.3H416.0M420.3 3349.3V3333.5M405.3 3333.5H435.3M420.3 3349.3V3365.2M405.3 3365.2H435.3M439.6 3340.1V3324.7M424.6 3324.7H454.6M439.6 3340.1V3355.5M424.6 3355.5H454.6M458.9 3364.7V3342.7M443.9 3342.7H473.9M458.9 3364.7V3386.8M443.9 3386.8H473.9M478.2 3340.1V3324.7M463.2 3324.7H493.2M478.2 3340.1V3355.5M463.2 3355.5H493.2M497.5 3349.3V3333.5M482.5 3333.5H512.5M497.5 3349.3V3365.2M482.5 3365.2H512.5M516.8 3329.3V3309.3M501.8 3309.3H531.8M516.8 3329.3V3349.3M501.8 3349.3H531.8M536.1 3338.6V3323.2M521.1 3323.2H551.1M536.1 3338.6V3354.0M521.1 3354.0H551.1M555.4 3340.1V3324.7M540.4 3324.7H570.4M555.4 3340.1V3355.5M540.4 3355.5H570.4M574.7 3349.3V3333.5M559.7 3333.5H589.7M574.7 3349.3V3365.2M559.7 3365.2H589.7M594.0 3338.6V3323.2M579.0 3323.2H609.0M594.0 3338.6V3354.0M579.0 3354.0H609.0M613.3 3329.3V3309.3M598.3 3309.3H628.3M613.3 3329.3V3349.3M598.3 3349.3H628.3M632.6 3340.1V3324.7M617.6 3324.7H647.6M632.6 3340.1V3355.5M617.6 3355.5H647.6M651.9 3338.6V3323.2M636.9 3323.2H666.9M651.9 3338.6V3354.0M636.9 3354.0H666.9M671.2 3349.3V3333.5M656.2 3333.5H686.2M671.2 3349.3V3365.2M656.2 3365.2H686.2M690.5 3329.3V3309.3M675.5 3309.3H705.5M690.5 3329.3V3349.3M675.5 3349.3H705.5M709.8 3340.1V3321.6M694.8 3321.6H724.8M709.8 3340.1V3358.6M694.8 3358.6H724.8M729.1 3339.0V3319.9M714.1 3319.9H744.1M729.1 3339.0V3358.1M714.1 3358.1H744.1M748.4 3342.9V3324.2M733.4 3324.2H763.4M748.4 3342.9V3361.5M733.4 3361.5H763.4M767.7 3345.6V3319.7M752.7 3319.7H782.7M767.7 3345.6V3371.5M752.7 3371.5H782.7M787.0 3341.8V3321.7M772.0 3321.7H802.0M787.0 3341.8V3361.9M772.0 3361.9H802.0M806.3 3342.4V3322.5M791.3 3322.5H821.3M806.3 3342.4V3362.2M791.3 3362.2H821.3M825.6 3347.8V3323.0M810.6 3323.0H840.6M825.6 3347.8V3372.6M810.6 3372.6H840.6M844.9 3343.6V3324.8M829.9 3324.8H859.9M844.9 3343.6V3362.4M829.9 3362.4H859.9M864.2 3343.4V3325.3M849.2 3325.3H879.2M864.2 3343.4V3361.6M849.2 3361.6H879.2M883.5 3344.2V3324.2M868.5 3324.2H898.5M883.5 3344.2V3364.2M868.5 3364.2H898.5M902.8 3342.9V3324.5M887.8 3324.5H917.8M902.8 3342.9V3361.2M887.8 3361.2H917.8M922.1 3341.4V3321.5M907.1 3321.5H937.1M922.1 3341.4V3361.4M907.1 3361.4H937.1M941.4 3347.0V3321.5M926.4 3321.5H956.4M941.4 3347.0V3372.5M926.4 3372.5H956.4M960.7 3341.8V3325.1M945.7 3325.1H975.7M960.7 3341.8V3358.5M945.7 3358.5H975.7M980.0 3342.3V3325.0M965.0 3325.0H995.0M980.0 3342.3V3359.6M965.0 3359.6H995.0M999.3 3345.0V3325.4M984.3 3325.4H1014.3M999.3 3345.0V3364.6M984.3 3364.6H1014.3M1018.6 3344.0V3325.6M1003.6 3325.6H1033.6M1018.6 3344.0V3362.4M1003.6 3362.4H1033.6M1037.9 3347.6V3322.1M1022.9 3322.1H1052.9M1037.9 3347.6V3373.0M1022.9 3373.0H1052.9M1057.2 3341.6V3322.1M1042.2 3322.1H1072.2M1057.2 3341.6V3361.1M1042.2 3361.1H1072.2M1076.5 3344.4V3325.7M1061.5 3325.7H1091.5M1076.5 3344.4V3363.1M1061.5 3363.1H1091.5M1095.8 3343.5V3325.9M1080.8 3325.9H1110.8M1095.8 3343.5V3361.2M1080.8 3361.2H1110.8M1115.1 3346.8V3320.6M1100.1 3320.6H1130.1M1115.1 3346.8V3373.1M1100.1 3373.1H1130.1M1134.4 3339.4V3321.2M1119.4 3321.2H1149.4M1134.4 3339.4V3357.7M1119.4 3357.7H1149.4M1153.7 3341.3V3322.8M1138.7 3322.8H1168.7M1153.7 3341.3V3359.8M1138.7 3359.8H1168.7M1173.0 3347.2V3321.7M1158.0 3321.7H1188.0M1173.0 3347.2V3372.7M1158.0 3372.7H1188.0M1192.3 3342.1V3322.0M1177.3 3322.0H1207.3M1192.3 3342.1V3362.2M1177.3 3362.2H1207.3M1211.6 3340.7V3320.9M1196.6 3320.9H1226.6M1211.6 3340.7V3360.6M1196.6 3360.6H1226.6M1230.9 3339.2V3321.6M1215.9 3321.6H1245.9M1230.9 3339.2V3356.8M1215.9 3356.8H1245.9M1250.2 3341.6V3321.5M1235.2 3321.5H1265.2M1250.2 3341.6V3361.7M1235.2 3361.7H1265.2M1269.5 3348.2V3323.0M1254.5 3323.0H1284.5M1269.5 3348.2V3373.4M1254.5 3373.4H1284.5M1288.8 3344.6V3327.1M1273.8 3327.1H1303.8M1288.8 3344.6V3362.1M1273.8 3362.1H1303.8M1308.0 3344.6V3325.5M1293.0 3325.5H1323.0M1308.0 3344.6V3363.7M1293.0 3363.7H1323.0M1327.3 3340.2V3320.3M1312.3 3320.3H1342.3M1327.3 3340.2V3360.2M1312.3 3360.2H1342.3M1346.6 3346.5V3322.2M1331.6 3322.2H1361.6M1346.6 3346.5V3370.8M1331.6 3370.8H1361.6M1365.9 3339.6V3319.4M1350.9 3319.4H1380.9M1365.9 3339.6V3359.8M1350.9 3359.8H1380.9M1385.2 3343.7V3323.5M1370.2 3323.5H1400.2M1385.2 3343.7V3363.8M1370.2 3363.8H1400.2M1404.5 3342.6V3324.2M1389.5 3324.2H1419.5M1404.5 3342.6V3361.0M1389.5 3361.0H1419.5M1423.8 3348.1V3322.9M1408.8 3322.9H1438.8M1423.8 3348.1V3373.3M1408.8 3373.3H1438.8M1443.1 3348.0V3323.1M1428.1 3323.1H1458.1M1443.1 3348.0V3372.8M1428.1 3372.8H1458.1M1462.4 3340.6V3323.9M1447.4 3323.9H1477.4M1462.4 3340.6V3357.3M1447.4 3357.3H1477.4M1481.7 3341.6V3323.4M1466.7 3323.4H1496.7M1481.7 3341.6V3359.9M1466.7 3359.9H1496.7" stroke="#111" stroke-width="11" stroke-linecap="round" fill="none"/>
<polyline points="343.1,3386.3 362.4,3375.5 381.7,3349.3 401.0,3329.3 420.3,3349.3 439.6,3340.1 458.9,3364.7 478.2,3340.1 497.5,3349.3 516.8,3329.3 536.1,3338.6 555.4,3340.1 574.7,3349.3 594.0,3338.6 613.3,3329.3 632.6,3340.1 651.9,3338.6 671.2,3349.3 690.5,3329.3 709.8,3340.1 729.1,3339.0 748.4,3342.9 767.7,3345.6 787.0,3341.8 806.3,3342.4 825.6,3347.8 844.9,3343.6 864.2,3343.4 883.5,3344.2 902.8,3342.9 922.1,3341.4 941.4,3347.0 960.7,3341.8 980.0,3342.3 999.3,3345.0 1018.6,3344.0 1037.9,3347.6 1057.2,3341.6 1076.5,3344.4 1095.8,3343.5 1115.1,3346.8 1134.4,3339.4 1153.7,3341.3 1173.0,3347.2 1192.3,3342.1 1211.6,3340.7 1230.9,3339.2 1250.2,3341.6 1269.5,3348.2 1288.8,3344.6 1308.0,3344.6 1327.3,3340.2 1346.6,3346.5 1365.9,3339.6 1385.2,3343.7 1404.5,3342.6 1423.8,3348.1 1443.1,3348.0 1462.4,3340.6 1481.7,3341.6" stroke="#111" stroke-width="7" fill="none" stroke-linejoin="round"/>
<path d="M326.6 3369.8h33v33h-33ZM345.9 3359.0h33v33h-33ZM365.2 3332.8h33v33h-33ZM384.5 3312.8h33v33h-33ZM403.8 3332.8h33v33h-33ZM423.1 3323.6h33v33h-33ZM442.4 3348.2h33v33h-33ZM461.7 3323.6h33v33h-33ZM481.0 3332.8h33v33h-33ZM500.3 3312.8h33v33h-33ZM519.6 3322.1h33v33h-33ZM538.9 3323.6h33v33h-33ZM558.2 3332.8h33v33h-33ZM577.5 3322.1h33v33h-33ZM596.8 3312.8h33v33h-33ZM616.1 3323.6h33v33h-33ZM635.4 3322.1h33v33h-33ZM654.7 3332.8h33v33h-33ZM674.0 3312.8h33v33h-33ZM693.3 3323.6h33v33h-33ZM712.6 3322.5h33v33h-33ZM731.9 3326.4h33v33h-33ZM751.2 3329.1h33v33h-33ZM770.5 3325.3h33v33h-33ZM789.8 3325.9h33v33h-33ZM809.1 3331.3h33v33h-33ZM828.4 3327.1h33v33h-33ZM847.7 3326.9h33v33h-33ZM867.0 3327.7h33v33h-33ZM886.3 3326.4h33v33h-33ZM905.6 3324.9h33v33h-33ZM924.9 3330.5h33v33h-33ZM944.2 3325.3h33v33h-33ZM963.5 3325.8h33v33h-33ZM982.8 3328.5h33v33h-33ZM1002.1 3327.5h33v33h-33ZM1021.4 3331.1h33v33h-33ZM1040.7 3325.1h33v33h-33ZM1060.0 3327.9h33v33h-33ZM1079.3 3327.0h33v33h-33ZM1098.6 3330.3h33v33h-33ZM1117.9 3322.9h33v33h-33ZM1137.2 3324.8h33v33h-33ZM1156.5 3330.7h33v33h-33ZM1175.8 3325.6h33v33h-33ZM1195.1 3324.2h33v33h-33ZM1214.4 3322.7h33v33h-33ZM1233.7 3325.1h33v33h-33ZM1253.0 3331.7h33v33h-33ZM1272.3 3328.1h33v33h-33ZM1291.5 3328.1h33v33h-33ZM1310.8 3323.7h33v33h-33ZM1330.1 3330.0h33v33h-33ZM1349.4 3323.1h33v33h-33ZM1368.7 3327.2h33v33h-33ZM1388.0 3326.1h33v33h-33ZM1407.3 3331.6h33v33h-33ZM1426.6 3331.5h33v33h-33ZM1445.9 3324.1h33v33h-33ZM1465.2 3325.1h33v33h-33Z" fill="#111"/>
<path d="M343.1 3337.4V3320.8M328.1 3320.8H358.1M343.1 3337.4V3354.1M328.1 3354.1H358.1M362.4 3336.7V3320.0M347.4 3320.0H377.4M362.4 3336.7V3353.3M347.4 3353.3H377.4M381.7 3336.0V3319.3M366.7 3319.3H396.7M381.7 3336.0V3352.6M366.7 3352.6H396.7M401.0 3336.2V3319.6M386.0 3319.6H416.0M401.0 3336.2V3352.9M386.0 3352.9H416.0M420.3 3337.3V3320.7M405.3 3320.7H435.3M420.3 3337.3V3354.0M405.3 3354.0H435.3M439.6 3335.1V3318.4M424.6 3318.4H454.6M439.6 3335.1V3351.7M424.6 3351.7H454.6M458.9 3335.6V3318.9M443.9 3318.9H473.9M458.9 3335.6V3352.2M443.9 3352.2H473.9M478.2 3335.1V3318.5M463.2 3318.5H493.2M478.2 3335.1V3351.7M463.2 3351.7H493.2M497.5 3337.2V3320.6M482.5 3320.6H512.5M497.5 3337.2V3353.9M482.5 3353.9H512.5M516.8 3336.8V3320.2M501.8 3320.2H531.8M516.8 3336.8V3353.5M501.8 3353.5H531.8M536.1 3343.2V3326.6M521.1 3326.6H551.1M536.1 3343.2V3359.8M521.1 3359.8H551.1M555.4 3343.2V3326.6M540.4 3326.6H570.4M555.4 3343.2V3359.8M540.4 3359.8H570.4M574.7 3336.8V3320.2M559.7 3320.2H589.7M574.7 3336.8V3353.5M559.7 3353.5H589.7M594.0 3337.2V3320.5M579.0 3320.5H609.0M594.0 3337.2V3353.8M579.0 3353.8H609.0M613.3 3336.5V3319.8M598.3 3319.8H628.3M613.3 3336.5V3353.1M598.3 3353.1H628.3M632.6 3335.2V3318.6M617.6 3318.6H647.6M632.6 3335.2V3351.9M617.6 3351.9H647.6M651.9 3335.5V3318.8M636.9 3318.8H666.9M651.9 3335.5V3352.1M636.9 3352.1H666.9M671.2 3336.9V3320.2M656.2 3320.2H686.2M671.2 3336.9V3353.5M656.2 3353.5H686.2M690.5 3337.1V3320.5M675.5 3320.5H705.5M690.5 3337.1V3353.8M675.5 3353.8H705.5M709.8 3335.2V3318.6M694.8 3318.6H724.8M709.8 3335.2V3351.9M694.8 3351.9H724.8M729.1 3225.7V3207.2M714.1 3207.2H744.1M729.1 3225.7V3244.2M714.1 3244.2H744.1M748.4 3188.9V3169.5M733.4 3169.5H763.4M748.4 3188.9V3208.3M733.4 3208.3H763.4M767.7 3136.9V3090.7M752.7 3090.7H782.7M767.7 3136.9V3183.1M752.7 3183.1H782.7M787.0 3176.9V3161.5M772.0 3161.5H802.0M787.0 3176.9V3192.3M772.0 3192.3H802.0M980.0 3289.2V3277.2M965.0 3277.2H995.0M980.0 3289.2V3301.2M965.0 3301.2H995.0M999.3 3295.1V3287.1M984.3 3287.1H1014.3M999.3 3295.1V3303.2M984.3 3303.2H1014.3M1018.6 3287.8V3277.4M1003.6 3277.4H1033.6M1018.6 3287.8V3298.1M1003.6 3298.1H1033.6M1037.9 3295.3V3281.9M1022.9 3281.9H1052.9M1037.9 3295.3V3308.8M1022.9 3308.8H1052.9M1057.2 3288.4V3275.8M1042.2 3275.8H1072.2M1057.2 3288.4V3301.1M1042.2 3301.1H1072.2M1076.5 3295.2V3282.2M1061.5 3282.2H1091.5M1076.5 3295.2V3308.2M1061.5 3308.2H1091.5M1095.8 3295.4V3282.4M1080.8 3282.4H1110.8M1095.8 3295.4V3308.4M1080.8 3308.4H1110.8M1115.1 3290.6V3280.9M1100.1 3280.9H1130.1M1115.1 3290.6V3300.4M1100.1 3300.4H1130.1M1134.4 3289.4V3276.0M1119.4 3276.0H1149.4M1134.4 3289.4V3302.8M1119.4 3302.8H1149.4M1153.7 3292.9V3284.4M1138.7 3284.4H1168.7M1153.7 3292.9V3301.4M1138.7 3301.4H1168.7M1173.0 3289.7V3280.6M1158.0 3280.6H1188.0M1173.0 3289.7V3298.9M1158.0 3298.9H1188.0M1192.3 3294.9V3286.2M1177.3 3286.2H1207.3M1192.3 3294.9V3303.6M1177.3 3303.6H1207.3M1211.6 3295.6V3286.7M1196.6 3286.7H1226.6M1211.6 3295.6V3304.6M1196.6 3304.6H1226.6M1230.9 3292.4V3282.8M1215.9 3282.8H1245.9M1230.9 3292.4V3302.0M1215.9 3302.0H1245.9M1250.2 3286.9V3277.4M1235.2 3277.4H1265.2M1250.2 3286.9V3296.4M1235.2 3296.4H1265.2M1269.5 3290.8V3282.0M1254.5 3282.0H1284.5M1269.5 3290.8V3299.6M1254.5 3299.6H1284.5M1327.3 3290.3V3279.2M1312.3 3279.2H1342.3M1327.3 3290.3V3301.4M1312.3 3301.4H1342.3M1346.6 3297.7V3287.1M1331.6 3287.1H1361.6M1346.6 3297.7V3308.4M1331.6 3308.4H1361.6M1365.9 3289.3V3281.0M1350.9 3281.0H1380.9M1365.9 3289.3V3297.7M1350.9 3297.7H1380.9M1385.2 3291.5V3281.2M1370.2 3281.2H1400.2M1385.2 3291.5V3301.9M1370.2 3301.9H1400.2M1404.5 3296.3V3283.5M1389.5 3283.5H1419.5M1404.5 3296.3V3309.1M1389.5 3309.1H1419.5M1423.8 3298.3V3287.5M1408.8 3287.5H1438.8M1423.8 3298.3V3309.1M1408.8 3309.1H1438.8M1443.1 3295.5V3281.7M1428.1 3281.7H1458.1M1443.1 3295.5V3309.2M1428.1 3309.2H1458.1M1462.4 3300.5V3287.7M1447.4 3287.7H1477.4M1462.4 3300.5V3313.3M1447.4 3313.3H1477.4M1481.7 3296.8V3285.2M1466.7 3285.2H1496.7M1481.7 3296.8V3308.4M1466.7 3308.4H1496.7" stroke="#008C8A" stroke-width="11" stroke-linecap="round" fill="none"/>
<polyline points="343.1,3337.4 362.4,3336.7 381.7,3336.0 401.0,3336.2 420.3,3337.3 439.6,3335.1 458.9,3335.6 478.2,3335.1 497.5,3337.2 516.8,3336.8 536.1,3343.2 555.4,3343.2 574.7,3336.8 594.0,3337.2 613.3,3336.5 632.6,3335.2 651.9,3335.5 671.2,3336.9 690.5,3337.1 709.8,3335.2 729.1,3225.7 748.4,3188.9 767.7,3136.9 787.0,3176.9 806.3,3210.0 825.6,3237.0 844.9,3248.8 864.2,3250.4 883.5,3251.7 902.8,3270.2 922.1,3276.2 941.4,3280.8 960.7,3283.1 980.0,3289.2 999.3,3295.1 1018.6,3287.8 1037.9,3295.3 1057.2,3288.4 1076.5,3295.2 1095.8,3295.4 1115.1,3290.6 1134.4,3289.4 1153.7,3292.9 1173.0,3289.7 1192.3,3294.9 1211.6,3295.6 1230.9,3292.4 1250.2,3286.9 1269.5,3290.8 1288.8,3293.5 1308.0,3295.5 1327.3,3290.3 1346.6,3297.7 1365.9,3289.3 1385.2,3291.5 1404.5,3296.3 1423.8,3298.3 1443.1,3295.5 1462.4,3300.5 1481.7,3296.8" stroke="#008C8A" stroke-width="7" fill="none" stroke-linejoin="round"/>
<path d="M326.6 3320.9h33v33h-33ZM345.9 3320.2h33v33h-33ZM365.2 3319.5h33v33h-33ZM384.5 3319.7h33v33h-33ZM403.8 3320.8h33v33h-33ZM423.1 3318.6h33v33h-33ZM442.4 3319.1h33v33h-33ZM461.7 3318.6h33v33h-33ZM481.0 3320.7h33v33h-33ZM500.3 3320.3h33v33h-33ZM519.6 3326.7h33v33h-33ZM538.9 3326.7h33v33h-33ZM558.2 3320.3h33v33h-33ZM577.5 3320.7h33v33h-33ZM596.8 3320.0h33v33h-33ZM616.1 3318.7h33v33h-33ZM635.4 3319.0h33v33h-33ZM654.7 3320.4h33v33h-33ZM674.0 3320.6h33v33h-33ZM693.3 3318.7h33v33h-33ZM712.6 3209.2h33v33h-33ZM731.9 3172.4h33v33h-33ZM751.2 3120.4h33v33h-33ZM770.5 3160.4h33v33h-33ZM789.8 3193.5h33v33h-33ZM809.1 3220.5h33v33h-33ZM828.4 3232.3h33v33h-33ZM847.7 3233.9h33v33h-33ZM867.0 3235.2h33v33h-33ZM886.3 3253.7h33v33h-33ZM905.6 3259.7h33v33h-33ZM924.9 3264.3h33v33h-33ZM944.2 3266.6h33v33h-33ZM963.5 3272.7h33v33h-33ZM982.8 3278.6h33v33h-33ZM1002.1 3271.3h33v33h-33ZM1021.4 3278.8h33v33h-33ZM1040.7 3271.9h33v33h-33ZM1060.0 3278.7h33v33h-33ZM1079.3 3278.9h33v33h-33ZM1098.6 3274.1h33v33h-33ZM1117.9 3272.9h33v33h-33ZM1137.2 3276.4h33v33h-33ZM1156.5 3273.2h33v33h-33ZM1175.8 3278.4h33v33h-33ZM1195.1 3279.1h33v33h-33ZM1214.4 3275.9h33v33h-33ZM1233.7 3270.4h33v33h-33ZM1253.0 3274.3h33v33h-33ZM1272.3 3277.0h33v33h-33ZM1291.5 3279.0h33v33h-33ZM1310.8 3273.8h33v33h-33ZM1330.1 3281.2h33v33h-33ZM1349.4 3272.8h33v33h-33ZM1368.7 3275.0h33v33h-33ZM1388.0 3279.8h33v33h-33ZM1407.3 3281.8h33v33h-33ZM1426.6 3279.0h33v33h-33ZM1445.9 3284.0h33v33h-33ZM1465.2 3280.3h33v33h-33Z" fill="#008C8A"/>
<line x1="649.9" y1="3203.1" x2="671.4" y2="3245.3" stroke="#111" stroke-width="9" stroke-linecap="round"/><polygon points="647.8,3244.6 685.4,3226.3 690.4,3284.6" fill="#111"/>
<line x1="866.4" y1="2900" x2="953.6" y2="2900" stroke="#111" stroke-width="7"/>
<rect x="894.8" y="2884.3" width="32" height="32.6" fill="#111"/>
<text x="997.8" y="2920" font-size="62">Control</text>
<line x1="866.4" y1="2988.5" x2="953.6" y2="2988.5" stroke="#008C8A" stroke-width="7"/>
<rect x="894.8" y="2973.9" width="32" height="31.6" fill="#008C8A"/>
<text x="997.5" y="3008" font-size="62">20 nM MTX3</text>
<g><path d="M192.88 152.75H206.87V160.00H192.88ZM213.32 152.75H226.75V160.00H213.32Z" fill="#fff"/><path d="M192.88 306.05H206.87V313.30H192.88ZM213.32 306.05H226.75V313.30H213.32Z" fill="#fff"/><path d="M192.88 459.35H206.87V466.60H192.88ZM213.32 459.35H226.75V466.60H213.32Z" fill="#fff"/><path d="M253.75 459.35H267.75V466.60H253.75ZM274.20 459.35H287.63V466.60H274.20Z" fill="#fff"/><path d="M192.88 612.65H206.87V619.90H192.88ZM213.32 612.65H226.75V619.90H213.32Z" fill="#fff"/><path d="M417.98 978.62H432.50V986.10H417.98ZM439.22 978.62H453.14V986.10H439.22Z" fill="#fff" transform="rotate(-45 540.2 985.1)"/><path d="M1301.94 216.77H1314.01V223.20H1301.94ZM1319.49 216.77H1331.08V223.20H1319.49Z" fill="#fff"/><path d="M204.88 1425.95H218.87V1433.20H204.88ZM225.32 1425.95H238.75V1433.20H225.32Z" fill="#fff"/><path d="M204.88 1574.35H218.87V1581.60H204.88ZM225.32 1574.35H238.75V1581.60H225.32Z" fill="#fff"/><path d="M204.88 1722.75H218.87V1730.00H204.88ZM225.32 1722.75H238.75V1730.00H225.32Z" fill="#fff"/><path d="M265.75 1722.75H279.75V1730.00H265.75ZM286.20 1722.75H299.63V1730.00H286.20Z" fill="#fff"/><path d="M204.88 1871.05H218.87V1878.30H204.88ZM225.32 1871.05H238.75V1878.30H225.32Z" fill="#fff"/><path d="M432.08 2257.22H446.60V2264.70H432.08ZM453.32 2257.22H467.24V2264.70H453.32Z" fill="#fff" transform="rotate(-45 554.3 2263.7)"/><path d="M204.88 2707.45H218.87V2714.70H204.88ZM225.32 2707.45H238.75V2714.70H225.32Z" fill="#fff"/><path d="M204.88 2861.45H218.87V2868.70H204.88ZM225.32 2861.45H238.75V2868.70H225.32Z" fill="#fff"/><path d="M204.88 3015.35H218.87V3022.60H204.88ZM225.32 3015.35H238.75V3022.60H225.32Z" fill="#fff"/><path d="M265.75 3015.35H279.75V3022.60H265.75ZM286.20 3015.35H299.63V3022.60H286.20Z" fill="#fff"/><path d="M204.88 3169.35H218.87V3176.60H204.88ZM225.32 3169.35H238.75V3176.60H225.32Z" fill="#fff"/><path d="M431.78 3537.02H446.30V3544.50H431.78ZM453.02 3537.02H466.94V3544.50H453.02Z" fill="#fff" transform="rotate(-45 554.0 3543.5)"/></g>
</svg>
</body></html>
